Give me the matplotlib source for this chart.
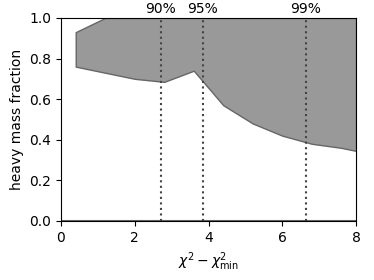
import matplotlib
matplotlib.use("Agg")
import matplotlib.pyplot as plt
import numpy as np

x = [0.4, 1.2, 2.0, 2.8, 3.6, 4.4, 5.2, 6.0, 6.8, 7.6, 8.0]
lower = [0.76, 0.73, 0.70, 0.685, 0.74, 0.57, 0.48, 0.42, 0.38, 0.36, 0.345]
upper = [0.93, 1.0, 1.0, 1.0, 1.0, 1.0, 1.0, 1.0, 1.0, 1.0, 1.0]
cl_x = [2.71, 3.84, 6.63]
cl_labels = ["90%", "95%", "99%"]

fig = plt.figure(figsize=(3.74, 2.8), dpi=100)
ax = fig.add_axes([0.163, 0.211, 0.789, 0.725])
ax.fill_between(x, lower, upper, facecolor="#999999", edgecolor="#666666", linewidth=1.0)
ax.axhline(0, color="#666666", linewidth=1.5)
for cx, lab in zip(cl_x, cl_labels):
    ax.axvline(cx, color="#444444", linestyle=":", linewidth=1.5)
    ax.text(cx, 1.01, lab, ha="center", va="bottom", fontsize=10, transform=ax.transData)
ax.set_xlim(0, 8)
ax.set_ylim(0, 1)
ax.set_xticks([0, 2, 4, 6, 8])
ax.set_yticks([0.0, 0.2, 0.4, 0.6, 0.8, 1.0])
ax.tick_params(labelsize=10)
ax.set_xlabel(r"$\chi^2 - \chi^2_{\rm min}$", fontsize=10)
ax.set_ylabel("heavy mass fraction", fontsize=10)
fig.savefig("out.png", dpi=100)
